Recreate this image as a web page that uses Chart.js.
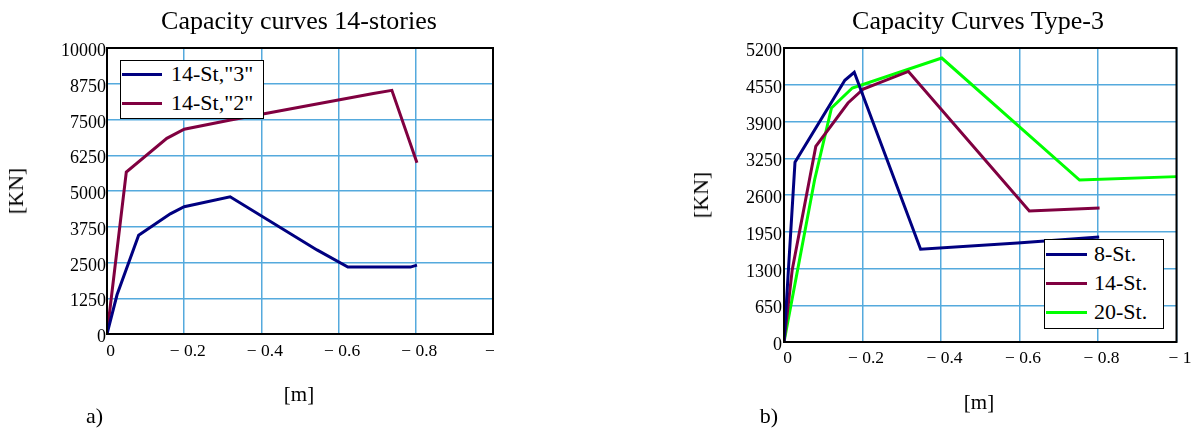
<!DOCTYPE html>
<html><head><meta charset="utf-8">
<script src="https://cdn.jsdelivr.net/npm/chart.js@4.4.0/dist/chart.umd.min.js"></script>
<style>
html,body{margin:0;padding:0;background:#fff;}
#wrap{position:relative;width:1194px;height:429px;overflow:hidden;background:#fff;font-family:'Liberation Serif','Times New Roman',serif;color:#000;}
#clipA{position:absolute;left:0;top:0;width:500px;height:429px;overflow:hidden;}
canvas{position:absolute;top:0;}
.t{position:absolute;white-space:nowrap;line-height:1;}
.leg{position:absolute;background:#fff;border:1.5px solid #000;box-sizing:border-box;}
.ll{position:absolute;height:3px;}
</style></head>
<body><div id="wrap">
<div id="clipA"><canvas id="cA" width="540" height="429" style="left:0px"></canvas></div>
<canvas id="cB" width="594" height="429" style="left:600px"></canvas>
</div>
<script>
// ---------- data ----------
const xTickVals   = [0, -0.2, -0.4, -0.6, -0.8, -1];
const xTickLabels = ['0', '\u2212 0.2', '\u2212 0.4', '\u2212 0.6', '\u2212 0.8', '\u2212 1'];

const yTicksA = [0, 1250, 2500, 3750, 5000, 6250, 7500, 8750, 10000];
const yTicksB = [0, 650, 1300, 1950, 2600, 3250, 3900, 4550, 5200];

// chart a) 14 stories
const titleA = 'Capacity curves 14-stories';
const namesA = ['14-St,"3"', '14-St,"2"'];
const colorsA = ['#000080', '#800040'];
const a3X = [0, -0.026, -0.082, -0.164, -0.2, -0.319, -0.544, -0.624, -0.786, -0.803];
const a3Y = [0, 1370, 3450, 4200, 4450, 4800, 2940, 2340, 2340, 2410];
const a2X = [0, -0.05, -0.155, -0.2, -0.32, -0.69, -0.738, -0.803];
const a2Y = [0, 5660, 6840, 7160, 7480, 8410, 8520, 5990];

// chart b) Type-3
const titleB = 'Capacity Curves Type-3';
const namesB = ['8-St.', '14-St.', '20-St.'];
const colorsB = ['#000080', '#800040', '#00ff00'];
const b8X  = [0, -0.028, -0.155, -0.179, -0.348, -0.595, -0.803];
const b8Y  = [0, 3178, 4630, 4770, 1640, 1750, 1857];
const b14X = [0, -0.021, -0.081, -0.163, -0.202, -0.317, -0.625, -0.804];
const b14Y = [0, 1280, 3460, 4227, 4475, 4786, 2317, 2370];
const b20X = [0, -0.078, -0.121, -0.174, -0.402, -0.753, -1.0];
const b20Y = [0, 2870, 4139, 4492, 5023, 2865, 2925];

const axisY = '[KN]';
const axisX = '[m]';
// ---------- end data ----------

const FONT = "'Liberation Serif','Times New Roman',serif";
Chart.defaults.font.family = FONT;
const GRID = '#55aadd';

function pts(xs, ys) { return xs.map((x, i) => ({x: x, y: ys[i]})); }
function xLabel(v) {
  let best = 0, d = 1e9;
  xTickVals.forEach((t, i) => { const e = Math.abs(t - v); if (e < d) { d = e; best = i; } });
  return d < 1e-6 ? xTickLabels[best] : '';
}
function yLabelFrom(arr) {
  return v => { const i = arr.findIndex(t => Math.abs(t - v) < 1e-6); return i >= 0 ? String(arr[i]) : ''; };
}

const borderPlugin = {
  id: 'plotBorder',
  afterDatasetsDraw(chart) {
    const a = chart.chartArea, c = chart.ctx;
    c.save(); c.strokeStyle = '#000'; c.lineWidth = 2;
    c.strokeRect(a.left, a.top, a.right - a.left, a.bottom - a.top);
    c.restore();
  }
};

function build(canvas, sets, yTicks, geo) {
  return new Chart(canvas, {
    type: 'scatter',
    data: { datasets: sets.map(s => ({
      label: s.name, data: pts(s.x, s.y), showLine: true, borderColor: s.color,
      backgroundColor: s.color, borderWidth: 3, pointRadius: 0, tension: 0, fill: false
    })) },
    options: {
      responsive: false, animation: false, devicePixelRatio: 1,
      layout: { autoPadding: false, padding: { top: geo.top, left: 0, right: geo.right, bottom: 0 } },
      plugins: { legend: { display: false }, title: { display: false }, tooltip: { enabled: false } },
      scales: {
        x: {
          type: 'linear', min: -1, max: 0, reverse: true,
          afterFit: s => { s.height = geo.xh; },
          ticks: { stepSize: 0.2, autoSkip: false, maxRotation: 0, padding: geo.xpad, labelOffset: 3.5,
                   color: '#000', font: { size: 17.5, family: FONT }, callback: v => xLabel(v) },
          grid: { color: GRID, lineWidth: 1.5, drawTicks: false },
          border: { display: false }
        },
        y: {
          type: 'linear', min: 0, max: yTicks[yTicks.length - 1],
          afterFit: s => { s.width = geo.yw; },
          ticks: { stepSize: yTicks[1] - yTicks[0], autoSkip: false, padding: geo.ypad, labelOffset: 3.5,
                   color: '#000', font: { size: 18, family: FONT }, callback: yLabelFrom(yTicks) },
          grid: { color: GRID, lineWidth: 1.5, drawTicks: false },
          border: { display: false }
        }
      }
    },
    plugins: [borderPlugin]
  });
}

build(document.getElementById('cA'), [
  { name: namesA[0], color: colorsA[0], x: a3X, y: a3Y },
  { name: namesA[1], color: colorsA[1], x: a2X, y: a2Y }
], yTicksA, { top: 48, right: 47, xh: 95, yw: 107, xpad: 7, ypad: 1 });

build(document.getElementById('cB'), [
  { name: namesB[0], color: colorsB[0], x: b8X, y: b8Y },
  { name: namesB[1], color: colorsB[1], x: b14X, y: b14Y },
  { name: namesB[2], color: colorsB[2], x: b20X, y: b20Y }
], yTicksB, { top: 48, right: 16, xh: 87, yw: 184, xpad: 6, ypad: 2 });

// ---------- HTML text (titles, axis names, legends) ----------
const wrap = document.getElementById('wrap');
function text(str, x, baseline, size, align, rot) {
  const d = document.createElement('div');
  d.className = 't';
  d.textContent = str;
  d.style.fontSize = size + 'px';
  if (rot) {
    d.style.left = x + 'px'; d.style.top = baseline + 'px';
    d.style.transform = 'translate(-50%,-50%) rotate(-90deg)';
  } else {
    d.style.left = x + 'px';
    d.style.top = (baseline - 0.8375 * size) + 'px';
    if (align === 'center') d.style.transform = 'translateX(-50%)';
  }
  wrap.appendChild(d);
  return d;
}
function legend(names, colors, box, rows) {
  const b = document.createElement('div');
  b.className = 'leg';
  b.style.left = box.l + 'px'; b.style.top = box.t + 'px';
  b.style.width = box.w + 'px'; b.style.height = box.h + 'px';
  wrap.appendChild(b);
  names.forEach((n, i) => {
    const ln = document.createElement('div');
    ln.className = 'll';
    ln.style.left = rows.lx + 'px'; ln.style.width = rows.lw + 'px';
    ln.style.top = (rows.ly + i * rows.dy - 1.5) + 'px';
    ln.style.background = colors[i];
    wrap.appendChild(ln);
    text(n, rows.tx, rows.tb + i * rows.dy, 22, 'left');
  });
}

text(titleA, 299, 29.3, 26, 'center');
text(titleB, 978, 29.3, 26, 'center');
text(axisY, 15.6, 191, 22, 'center', true);
text(axisY, 700.6, 195, 22, 'center', true);
text(axisX, 299, 401.8, 21, 'center');
text(axisX, 979, 410, 21, 'center');
text('a)', 94.5, 423.3, 22, 'center');
text('b)', 769, 423.3, 22, 'center');

legend(namesA, colorsA, { l: 120, t: 60, w: 144, h: 59 },
       { lx: 122, lw: 40, ly: 74, dy: 29, tx: 171, tb: 81.7 });
legend(namesB, colorsB, { l: 1044, t: 239, w: 120, h: 90 },
       { lx: 1046, lw: 41, ly: 254.5, dy: 29, tx: 1094, tb: 261.7 });
</script>
</body></html>
